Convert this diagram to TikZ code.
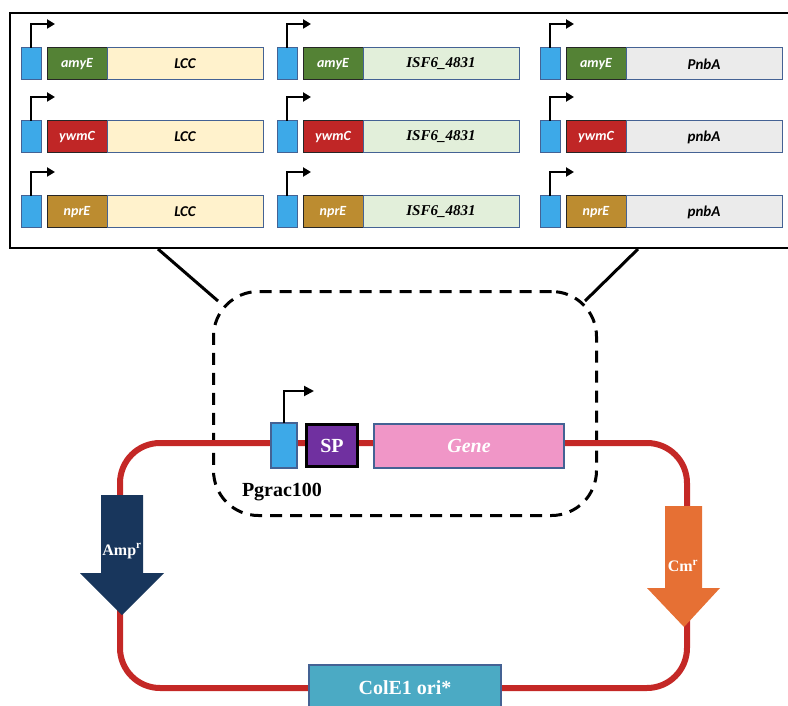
\documentclass[tikz,border=0pt]{standalone}
\usepackage{fontspec}
\setmainfont{Liberation Serif}
\newfontfamily\carlito{Carlito}
\usetikzlibrary{positioning,arrows.meta}

\definecolor{promblue}{RGB}{61,169,232}
\definecolor{boxedge}{RGB}{68,98,148}
\definecolor{amyg}{RGB}{84,130,53}
\definecolor{ywmr}{RGB}{192,38,38}
\definecolor{nprg}{RGB}{188,140,48}
\definecolor{lccf}{RGB}{255,242,204}
\definecolor{isff}{RGB}{226,239,218}
\definecolor{pnbf}{RGB}{235,235,235}
\definecolor{bbred}{RGB}{196,40,38}
\definecolor{spviolet}{RGB}{112,48,160}
\definecolor{genepink}{RGB}{240,150,199}
\definecolor{ampnavy}{RGB}{24,54,92}
\definecolor{cmorange}{RGB}{230,112,52}
\definecolor{orib}{RGB}{75,170,196}

\tikzset{
  prom/.style={draw=boxedge,fill=promblue,line width=1pt,minimum width=20pt,
    minimum height=32pt,inner sep=0pt,outer sep=0pt},
  tag/.style={draw=black!85,fill=#1,line width=1pt,minimum width=60pt,
    minimum height=32pt,inner sep=0pt,outer sep=0pt,text=white,
    font=\carlito\bfseries\itshape\fontsize{14}{14}\selectfont},
  cds/.style={draw=boxedge,fill=#1,line width=1pt,minimum width=156pt,
    minimum height=32pt,inner sep=0pt,outer sep=0pt},
  tss/.style={-{Triangle[length=8pt,width=9pt]},line width=2pt},
  big/.style={font=\bfseries\fontsize{20}{20}\selectfont}
}

\begin{document}
\begin{tikzpicture}[x=1pt,y=-1pt]
\useasboundingbox (0,0) rectangle (788,706);

\draw[line width=2pt] (10,13) rectangle (795,248);
\foreach \cx/\cf/\fnt/\ga/\gb [count=\c] in
  {21/lccf/\carlito/LCC/LCC, 277/isff/\rmfamily/ISF6\_4831/ISF6\_4831,
   540/pnbf/\carlito/PnbA/pnbA}
{
  \foreach \ry/\tc/\tl/\gl [count=\r] in {48/amyg/amyE/\ga, 121/ywmr/ywmC/\gb, 196/nprg/nprE/\gb}
  {
    \node[prom,anchor=north west] (p\c\r) at (\cx,\ry) {};
    \node[tag=\tc,right=6pt of p\c\r] (t\c\r) {\tl};
    \node[cds=\cf,right=0pt of t\c\r,font=\fnt\bfseries\itshape\fontsize{15}{15}\selectfont] (g\c\r) {\gl};
    \draw[tss] (p\c\r.north) |- ++(24,-24);
  }
}

\node[draw,dashed,dash pattern=on 12pt off 8pt,line width=3pt,rounded corners=45pt,
  minimum width=383pt,minimum height=224pt,anchor=north west] (insert) at (212,290) {};
\coordinate (zl) at (158,249);
\coordinate (zr) at (638,249);
\draw[line width=3pt] (zl) -- ([shift={(6,11)}]insert.north west);
\draw[line width=3pt] (zr) -- ([shift={(-13,11)}]insert.north east);

\draw[bbred,line width=6pt,rounded corners=40pt] (120,443) rectangle (687,688);

\node[prom,minimum width=26pt,minimum height=45pt,line width=2pt,anchor=north west] (pg) at (271,423) {};
\node[draw=black,line width=3pt,fill=spviolet,minimum width=51pt,minimum height=42pt,
  text=white,big,right=8pt of pg] (sp) {SP};
\node[draw=boxedge,line width=2pt,fill=genepink,minimum width=190pt,minimum height=44pt,
  text=white,font=\bfseries\itshape\fontsize{20}{20}\selectfont,right=14pt of sp] (gene) {Gene};
\node[big,below=12pt of pg,xshift=-2pt] (pglab) {Pgrac100};
\draw[tss,-{Triangle[length=10pt,width=10pt]}] (pg.north) |- ++(30,-32);

\fill[ampnavy] (101,495) -- (143,495) -- (143,573) -- (164,573) -- (122,615)
  -- (80,573) -- (101,573) -- cycle;
\node[text=white,font=\bfseries\fontsize{16}{16}\selectfont] (amp) at (122,551) {Amp\textsuperscript{r}};
\fill[cmorange] (665,506) -- (702,506) -- (702,588) -- (720,588) -- (684,627)
  -- (647,588) -- (665,588) -- cycle;
\node[text=white,font=\bfseries\fontsize{16}{16}\selectfont] (cm) at (683,566) {Cm\textsuperscript{r}};

\node[draw=boxedge,line width=2pt,fill=orib,minimum width=192pt,minimum height=46pt,
  text=white,big] (ori) at (405,688) {ColE1 ori*};
\end{tikzpicture}
\end{document}
